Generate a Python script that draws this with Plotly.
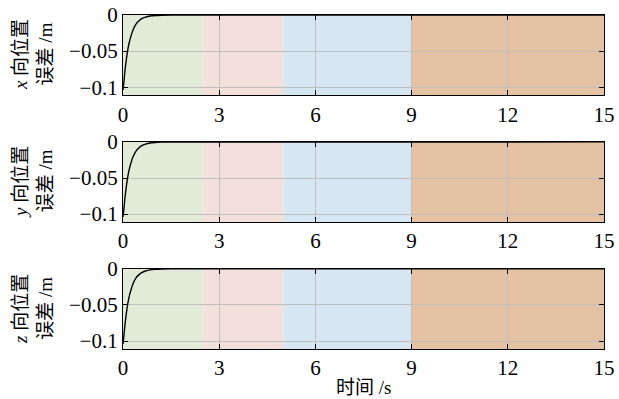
import plotly.graph_objects as go
from plotly.subplots import make_subplots

# Time samples (s) and position error (m) for each axis
t = [0, 0.03, 0.06, 0.1, 0.15, 0.2, 0.25, 0.3, 0.4, 0.5, 0.6, 0.7, 0.8, 0.9, 1.0, 1.2, 1.5, 15]
err_x = [-0.104, -0.092, -0.078, -0.063, -0.048, -0.037, -0.029, -0.022, -0.013, -0.008, -0.0048, -0.003, -0.0018, -0.0011, -0.0007, -0.0003, -0.0001, 0]
err_y = [-0.104, -0.092, -0.078, -0.063, -0.048, -0.037, -0.029, -0.022, -0.013, -0.008, -0.0048, -0.003, -0.0018, -0.0011, -0.0007, -0.0003, -0.0001, 0]
err_z = [-0.104, -0.092, -0.078, -0.063, -0.048, -0.037, -0.029, -0.022, -0.013, -0.008, -0.0048, -0.003, -0.0018, -0.0011, -0.0007, -0.0003, -0.0001, 0]

# Flight phases (start, end, colour)
phase_start = [0, 2.5, 5, 9]
phase_end = [2.5, 5, 9, 15]
phase_color = ["#e2ebd8", "#f4e0da", "#d6e6f3", "#e5c2a3"]

x_ticks = [0, 3, 6, 9, 12, 15]
y_ticks = [0, -0.05, -0.1]
y_ticktext = ["0", "\u22120.05", "\u22120.1"]
axis_names = ["x", "y", "z"]

serif = "Liberation Serif"
cjk = "Liberation Serif, Noto Sans CJK SC"

fig = make_subplots(rows=3, cols=1, vertical_spacing=0.14)

for i, err in enumerate([err_x, err_y, err_z], start=1):
    fig.add_trace(go.Scatter(x=t, y=err, mode="lines",
                             line=dict(color="black", width=1.4, shape="spline"),
                             showlegend=False), row=i, col=1)
    sfx = "" if i == 1 else str(i)
    for s, e, c in zip(phase_start, phase_end, phase_color):
        fig.add_shape(type="rect", xref=f"x{sfx}", yref=f"y{sfx} domain",
                      x0=s, x1=e, y0=0, y1=1, fillcolor=c, line_width=0, layer="below")
    dom = fig.layout[f"yaxis{sfx}"].domain
    fig.add_annotation(xref="paper", yref="paper", x=0, xshift=-90,
                       y=(dom[0] + dom[1]) / 2, xanchor="center", yanchor="middle",
                       textangle=-90, showarrow=False,
                       text=f"<i>{axis_names[i-1]}</i> 向位置<br>误差 /m",
                       font=dict(family=cjk, size=19, color="black"))

fig.update_xaxes(range=[0, 15], tickvals=x_ticks, ticks="inside", ticklen=5,
                 tickcolor="black", showline=True, linecolor="black", linewidth=1.3,
                 mirror="ticks", showgrid=True, gridcolor="#bfbfbf", gridwidth=1.2,
                 zeroline=False, automargin=False,
                 tickfont=dict(family=serif, size=21))
fig.update_yaxes(range=[-0.111, 0], tickvals=y_ticks, ticktext=y_ticktext,
                 ticks="inside", ticklen=5, tickcolor="black", showline=True,
                 linecolor="black", linewidth=1.3, mirror="ticks", showgrid=True,
                 gridcolor="#bfbfbf", gridwidth=1.2, zeroline=False, automargin=False,
                 tickfont=dict(family=serif, size=21))

fig.add_annotation(xref="paper", yref="paper", x=0.5, y=0, yshift=-38,
                   xanchor="center", yanchor="middle", showarrow=False,
                   text="时间 /s", font=dict(family=cjk, size=19, color="black"))

fig.update_layout(template="none", width=619, height=399,
                  margin=dict(l=123, r=15, t=15, b=50),
                  font=dict(family=serif, size=21, color="black"),
                  plot_bgcolor="white", paper_bgcolor="white")

fig.write_html("out.html")
